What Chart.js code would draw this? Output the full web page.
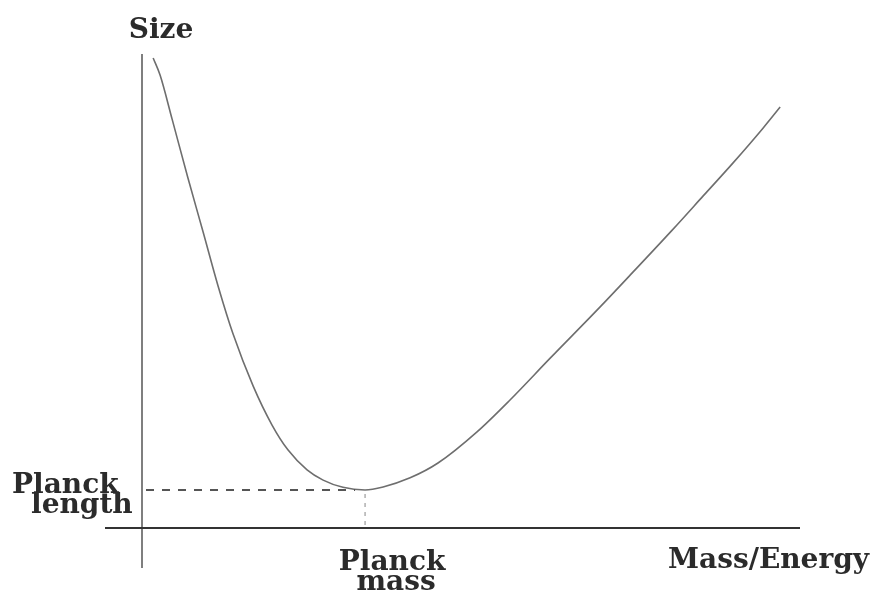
<!DOCTYPE html>
<html>
<head>
<meta charset="utf-8">
<script src="https://cdn.jsdelivr.net/npm/chart.js@4"></script>
<style>
  html, body { margin: 0; padding: 0; background: #fff; }
  #wrap { width: 878px; height: 598px; }
</style>
</head>
<body>
<div id="wrap"><canvas id="planckChart"></canvas></div>
<script>
// Mass in units of the Planck mass, size in units of the Planck length
const massValues = [0.05, 0.081, 0.135, 0.206, 0.274, 0.341, 0.408, 0.498, 0.583, 0.655, 0.74, 0.812, 0.901, 1.0,
                    1.081, 1.202, 1.327, 1.502, 1.65, 1.83, 2.054, 2.202, 2.377, 2.516, 2.65, 2.785, 2.861];
const sizeValues = [12.37, 11.92, 10.76, 9.21, 7.79, 6.37, 5.11, 3.74, 2.71, 2.05, 1.53, 1.26, 1.07, 1.0,
                    1.08, 1.32, 1.71, 2.53, 3.37, 4.47, 5.82, 6.74, 7.84, 8.74, 9.61, 10.53, 11.08];
const planckMass = 1;
const planckLength = 1;
const axisTitles = { y: 'Size', x: 'Mass/Energy' };
const planckLengthLabel = ['Planck', 'length'];
const planckMassLabel = ['Planck', 'mass'];

document.addEventListener('DOMContentLoaded', function () {
    const ctx = document.getElementById('planckChart').getContext('2d');

    const sketchPlugin = {
        id: 'sketch',
        afterDraw(chart) {
            const { ctx, scales: { x, y } } = chart;
            const x0 = x.getPixelForValue(0);
            const y0 = y.getPixelForValue(0);
            const xm = x.getPixelForValue(planckMass);
            const yl = y.getPixelForValue(planckLength);

            ctx.save();
            // y axis
            ctx.strokeStyle = '#555';
            ctx.lineWidth = 1.5;
            ctx.beginPath();
            ctx.moveTo(x0, y.getPixelForValue(y.max) + 4);
            ctx.lineTo(x0, y0 + 40);
            ctx.stroke();
            // x axis
            ctx.strokeStyle = '#333';
            ctx.lineWidth = 2;
            ctx.beginPath();
            ctx.moveTo(x0 - 37, y0);
            ctx.lineTo(x.getPixelForValue(x.max), y0);
            ctx.stroke();
            // dashed guides
            ctx.strokeStyle = '#555';
            ctx.lineWidth = 2;
            ctx.setLineDash([8, 8]);
            ctx.beginPath();
            ctx.moveTo(x0 + 4, yl);
            ctx.lineTo(xm - 10, yl);
            ctx.stroke();
            ctx.lineWidth = 1;
            ctx.setLineDash([4, 5]);
            ctx.strokeStyle = '#888';
            ctx.beginPath();
            ctx.moveTo(xm, yl + 4);
            ctx.lineTo(xm, y0);
            ctx.stroke();
            ctx.setLineDash([]);

            // labels
            ctx.fillStyle = '#2b2b2b';
            ctx.font = 'bold 28px "DejaVu Serif"';
            ctx.textBaseline = 'alphabetic';
            ctx.textAlign = 'center';
            ctx.fillText(axisTitles.y, x0 + 19, 38);
            ctx.fillText(planckMassLabel[0], xm + 27, y0 + 42);
            ctx.fillText(planckMassLabel[1], xm + 31, y0 + 62);
            ctx.textAlign = 'left';
            ctx.fillText(planckLengthLabel[0], 12, yl + 3);
            ctx.fillText(planckLengthLabel[1], 31, yl + 23);
            ctx.fillText(axisTitles.x, 668, y0 + 40);
            ctx.restore();
        }
    };

    new Chart(ctx, {
        type: 'line',
        data: {
            datasets: [{
                data: massValues.map((m, i) => ({ x: m, y: sizeValues[i] })),
                borderColor: '#6e6e6e',
                borderWidth: 1.6,
                pointRadius: 0,
                fill: false,
                cubicInterpolationMode: 'monotone'
            }]
        },
        options: {
            responsive: true,
            maintainAspectRatio: false,
            animation: false,
            layout: { padding: { left: 142, right: 78, top: 50, bottom: 70 } },
            scales: {
                x: { type: 'linear', min: 0, max: 2.95, display: false },
                y: { type: 'linear', min: 0, max: 12.58, display: false }
            },
            plugins: {
                legend: { display: false },
                tooltip: { enabled: false }
            }
        },
        plugins: [sketchPlugin]
    });
});
</script>
</body>
</html>
